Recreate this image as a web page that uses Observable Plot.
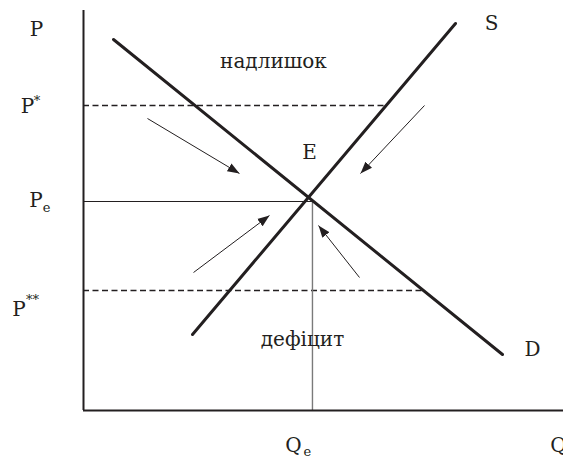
<!DOCTYPE html>
<html><head><meta charset="utf-8">
<script src="https://cdn.jsdelivr.net/npm/d3@7"></script>
<script src="https://cdn.jsdelivr.net/npm/@observablehq/plot@0.6"></script>
<style>body{margin:0;background:#fff}</style>
</head><body><div id="chart"></div>
<script>
// Conceptual coordinates: quantity Q on x (0..10), price P on y (0..10)
const demand = [{q: 0.625, p: 9.275}, {q: 8.729, p: 1.4}];
const supply = [{q: 2.271, p: 1.9}, {q: 7.75, p: 9.675}];
const Qe = 4.77, Pe = 5.225;
const Pstar = 7.625, PstarEnd = 6.31;
const Pstar2 = 3.0, Pstar2End = 7.08;
const dashed = [{p: Pstar, q2: PstarEnd}, {p: Pstar2, q2: Pstar2End}];

// adjustment arrows (from -> to)
const arrows = [
  {q1: 1.333, p1: 7.3,   q2: 3.25,  p2: 5.925},
  {q1: 7.104, p1: 7.625, q2: 5.771, p2: 5.925},
  {q1: 2.292, p1: 3.45,  q2: 3.875, p2: 4.875},
  {q1: 5.75,  p1: 3.325, q2: 4.896, p2: 4.625}
];

// main labels
const labels = [
  {text: "P", q: -0.979, p: 9.5125},
  {text: "P", q: -1.167, p: 7.6},
  {text: "P", q: -0.99,  p: 5.2375},
  {text: "P", q: -1.344, p: 2.525},
  {text: "Q", q: 4.375,  p: -0.875},
  {text: "Q", q: 9.896,  p: -0.875},
  {text: "S", q: 8.5,    p: 9.675},
  {text: "D", q: 9.354,  p: 1.525},
  {text: "E", q: 4.708,  p: 6.45},
  {text: "надлишок", q: 3.958, p: 8.725},
  {text: "дефіцит",  q: 4.5625, p: 1.775}
];
// small sub/superscripts
const smallLabels = [
  {text: "*",  q: -0.97,  p: 7.74},
  {text: "e",  q: -0.77,  p: 5.075},
  {text: "**", q: -1.06,  p: 2.76},
  {text: "e",  q: 4.666,  p: -1.025}
];

const ink = "#231f20";
const chart = Plot.plot({
  width: 563, height: 458,
  marginLeft: 83, marginRight: 0, marginTop: 10, marginBottom: 48,
  x: {domain: [0, 10], axis: null},
  y: {domain: [0, 10], axis: null},
  style: {fontFamily: "DejaVu Serif", background: "white", color: ink},
  marks: [
    Plot.ruleY(dashed, {y: "p", x1: 0, x2: "q2", stroke: ink, strokeWidth: 1.3, strokeDasharray: "6,3.5"}),
    Plot.ruleY([Pe], {x1: 0, x2: Qe, stroke: ink, strokeWidth: 1.2}),
    Plot.ruleX([Qe], {y1: 0, y2: Pe, stroke: "#7a7a7a", strokeWidth: 1.4}),
    Plot.line(demand, {x: "q", y: "p", stroke: ink, strokeWidth: 3}),
    Plot.line(supply, {x: "q", y: "p", stroke: ink, strokeWidth: 3}),
    Plot.ruleX([0], {y1: 0, y2: 10, stroke: ink, strokeWidth: 2}),
    Plot.ruleY([0], {x1: 0, x2: 10, stroke: ink, strokeWidth: 2}),
    Plot.link(arrows, {x1: "q1", y1: "p1", x2: "q2", y2: "p2", stroke: ink, strokeWidth: 1, markerEnd: "arrow"}),
    Plot.text(labels, {x: "q", y: "p", text: "text", fontSize: 20, fill: ink}),
    Plot.text(smallLabels, {x: "q", y: "p", text: "text", fontSize: 13, fill: ink})
  ]
});

// turn the open arrow markers into filled triangular heads
chart.querySelectorAll("marker").forEach(m => {
  const color = m.getAttribute("stroke") || ink;
  m.setAttribute("viewBox", "-12 -5 12 10");
  m.setAttribute("markerWidth", 12);
  m.setAttribute("markerHeight", 10);
  m.setAttribute("refX", 0);
  m.setAttribute("refY", 0);
  m.setAttribute("fill", color);
  m.setAttribute("stroke", "none");
  const path = m.querySelector("path");
  if (path) path.setAttribute("d", "M-12,-4.5L0,0L-12,4.5Z");
});

document.getElementById("chart").appendChild(chart);
</script>
</body></html>
